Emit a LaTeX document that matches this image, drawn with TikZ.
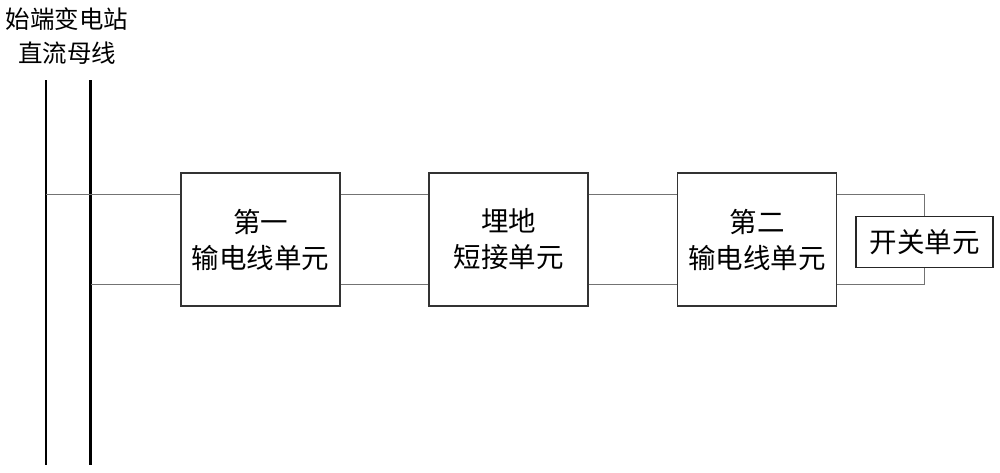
\documentclass[tikz,border=0pt]{standalone}
\usepackage{fontspec}
\newfontfamily\cjk{Noto Sans CJK SC}
\usetikzlibrary{calc}

\begin{document}
\begin{tikzpicture}[x=1pt,y=-1pt,every node/.style={font=\cjk\fontsize{27.5}{36}\selectfont},
  unitbox/.style={draw=black!80,line width=1.3pt,minimum width=159pt,minimum height=133pt,align=center,inner sep=0pt},
  swbox/.style={draw=black!85,line width=1.3pt,minimum width=137pt,minimum height=51pt,inner sep=0pt},
  bus/.style={line width=2.8pt},wire/.style={black!55,line width=0.9pt}]
\useasboundingbox (0,0) rectangle (1000,472);
\node[align=center,font=\cjk\fontsize{24.5}{34}\selectfont] (title) at (67,36){始端变电站\\直流母线};
\coordinate (A1) at (46,80);\coordinate (A2) at (46,465);
\coordinate (B1) at (90.5,80);\coordinate (B2) at (90.5,465);
\draw[bus] (A1)--(A2);\draw[bus] (B1)--(B2);
\node[unitbox] (line1) at (260.5,239.5){第一\\输电线单元};
\node[unitbox] (ground) at (508.5,239.5){埋地\\短接单元};
\node[unitbox] (line2) at (757,239.5){第二\\输电线单元};
\node[swbox] (switch) at (924.5,242){开关单元};
% upper and lower conductors
\coordinate (u1) at ([yshift=45.5pt]line1.west);\coordinate (d1) at ([yshift=-44.5pt]line1.west);
\draw[wire] (u1)--(u1 -| A1);\draw[wire] (d1)--(d1 -| B1);
\draw[wire] ([yshift=45.5pt]line1.east)--([yshift=45.5pt]ground.west);
\draw[wire] ([yshift=-44.5pt]line1.east)--([yshift=-44.5pt]ground.west);
\draw[wire] ([yshift=45.5pt]ground.east)--([yshift=45.5pt]line2.west);
\draw[wire] ([yshift=-44.5pt]ground.east)--([yshift=-44.5pt]line2.west);
\draw[wire] ([yshift=45.5pt]line2.east)-|(switch.north);
\draw[wire] (switch.south)|-([yshift=-44.5pt]line2.east);
\end{tikzpicture}
\end{document}
